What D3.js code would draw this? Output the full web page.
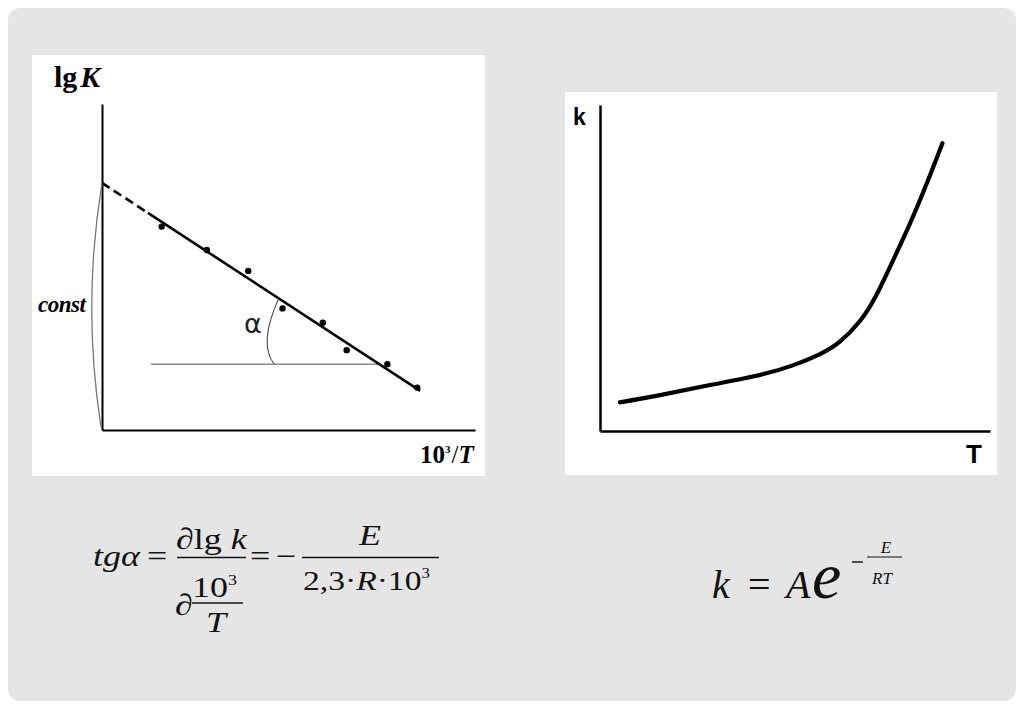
<!DOCTYPE html>
<html>
<head>
<meta charset="utf-8">
<script src="https://cdn.jsdelivr.net/npm/d3@7"></script>
<style>
  html, body { margin: 0; padding: 0; background: #ffffff; }
  svg { display: block; }
</style>
</head>
<body>
<div id="slide"></div>
<script>
/* ── Data ─────────────────────────────────────────────────────────── */

// Left chart: measured lg K against 10^3/T
const invT = [1.60, 2.81, 3.92, 4.84, 5.92, 6.56, 7.65, 8.45];
const lgK  = [6.24, 5.52, 4.88, 3.73, 3.29, 2.45, 2.02, 1.30];

// Fitted straight line: dashed extrapolation to the axis, then solid
const fitDashX  = [0, 1.23];
const fitDashY  = [7.58, 6.66];
const fitSolidX = [1.23, 8.53];
const fitSolidY = [6.66, 1.20];

// Horizontal reference line used to show the angle alpha
const refX = [1.31, 7.43];
const refY = [2.02, 2.02];

// Right chart: k against T
const tempT = [0.51, 1.54, 2.82, 4.10, 4.96, 5.64, 6.15, 6.67, 7.09, 7.52, 7.95, 8.38, 8.78];
const rateK = [0.88, 1.10, 1.41, 1.72, 2.02, 2.36, 2.74, 3.38, 4.18, 5.25, 6.37, 7.60, 8.83];

/* ── SVG scaffold ─────────────────────────────────────────────────── */
const W = 1024, H = 708;
const serif = "'Liberation Serif', 'Times New Roman', serif";
const sans  = "'Liberation Sans', Arial, sans-serif";

const svg = d3.select('#slide').append('svg')
  .attr('width', W).attr('height', H)
  .attr('viewBox', `0 0 ${W} ${H}`);

svg.append('rect')
  .attr('x', 8).attr('y', 8).attr('width', 1008).attr('height', 693)
  .attr('rx', 12).attr('fill', '#e5e5e5');

// white panels
svg.append('rect').attr('x', 32).attr('y', 55).attr('width', 453).attr('height', 421).attr('fill', '#fff');
svg.append('rect').attr('x', 565).attr('y', 92).attr('width', 432).attr('height', 383).attr('fill', '#fff');

/* ── Left chart ───────────────────────────────────────────────────── */
const xL = d3.scaleLinear().domain([0, 10]).range([102, 475]);
const yL = d3.scaleLinear().domain([0, 10]).range([430, 104]);
const gL = svg.append('g');

_axes(gL, xL, yL, 2);

const pair = (xs, ys) => xs.map((v, i) => [v, ys[i]]);
const lineL = d3.line().x(d => xL(d[0])).y(d => yL(d[1]));

// horizontal reference line
gL.append('path').datum(pair(refX, refY))
  .attr('d', lineL).attr('fill', 'none')
  .attr('stroke', '#555').attr('stroke-width', 1);

// fit line
gL.append('path').datum(pair(fitDashX, fitDashY))
  .attr('d', lineL).attr('fill', 'none')
  .attr('stroke', '#000').attr('stroke-width', 2.6)
  .attr('stroke-dasharray', '9,5');

gL.append('path').datum(pair(fitSolidX, fitSolidY))
  .attr('d', lineL).attr('fill', 'none')
  .attr('stroke', '#000').attr('stroke-width', 2.6);

// data points
gL.selectAll('circle.pt').data(pair(invT, lgK)).join('circle')
  .attr('class', 'pt')
  .attr('cx', d => xL(d[0])).attr('cy', d => yL(d[1]))
  .attr('r', 3.2).attr('fill', '#000');

// angle arc between reference line and fit line
{
  const ix = xL(refX[1]), iy = yL(refY[1]);
  const dx = xL(fitSolidX[0]) - xL(fitSolidX[1]);
  const dy = yL(fitSolidY[0]) - yL(fitSolidY[1]);
  const len = Math.hypot(dx, dy);
  const p0 = [ix - 105, iy];
  const p2 = [ix + dx / len * 120, iy + dy / len * 120];
  const p = d3.path();
  p.moveTo(p0[0], p0[1]);
  p.quadraticCurveTo(p0[0] - 16, iy - 20, p2[0], p2[1]);
  gL.append('path').attr('d', p.toString())
    .attr('fill', 'none').attr('stroke', '#333').attr('stroke-width', 1);
}

gL.append('text').attr('x', 244).attr('y', 333)
  .attr('font-family', "'DejaVu Sans', sans-serif").attr('font-size', 27)
  .attr('fill', '#222')
  .text('α');

// "const" bracket from origin to the intercept
{
  const top = [xL(0), yL(fitDashY[0])];
  const bot = [xL(0) - 1, yL(0) - 3];
  const p = d3.path();
  p.moveTo(top[0], top[1]);
  p.quadraticCurveTo(82, (top[1] + bot[1]) / 2, bot[0], bot[1]);
  gL.append('path').attr('d', p.toString())
    .attr('fill', 'none').attr('stroke', '#777').attr('stroke-width', 1.3);
}

gL.append('text').attr('x', 38).attr('y', 312)
  .attr('font-family', serif).attr('font-size', 23)
  .attr('font-weight', 'bold').attr('font-style', 'italic')
  .attr('letter-spacing', -0.5)
  .text('const');

// axis titles
{
  const t = gL.append('text').attr('x', 54).attr('y', 87)
    .attr('font-family', serif).attr('font-size', 30).attr('font-weight', 'bold');
  t.append('tspan').text('lg');
  t.append('tspan').attr('dx', 3).attr('font-style', 'italic').text('K');
}
{
  const t = gL.append('text').attr('x', 420).attr('y', 463)
    .attr('font-family', serif).attr('font-size', 25).attr('font-weight', 'bold');
  t.append('tspan').text('10');
  t.append('tspan').attr('dy', -10).attr('font-size', 11).text('3');
  t.append('tspan').attr('dy', 10).attr('dx', 1).attr('font-weight', 'normal').text('/');
  t.append('tspan').attr('font-style', 'italic').text('T');
}

/* ── Right chart ──────────────────────────────────────────────────── */
const xR = d3.scaleLinear().domain([0, 10]).range([600, 990]);
const yR = d3.scaleLinear().domain([0, 10]).range([431, 105]);
const gR = svg.append('g');

_axes(gR, xR, yR, 2.5);

gR.append('path').datum(pair(tempT, rateK))
  .attr('d', d3.line().x(d => xR(d[0])).y(d => yR(d[1])).curve(d3.curveNatural))
  .attr('fill', 'none').attr('stroke', '#000')
  .attr('stroke-width', 4.2).attr('stroke-linecap', 'round');

gR.append('text').attr('x', 573).attr('y', 125)
  .attr('font-family', sans).attr('font-weight', 'bold').attr('font-size', 23).text('k');
gR.append('text').attr('x', 966).attr('y', 463)
  .attr('font-family', sans).attr('font-weight', 'bold').attr('font-size', 26).text('T');

/* ── Formulas ─────────────────────────────────────────────────────── */
const gF = svg.append('g').attr('font-family', serif).attr('fill', '#111');
const S = 1.2;    // the formula picture is stretched horizontally
const FS = 30;

// tgα = ∂lg k / ∂(10³/T) = − E / (2,3·R·10³)
_stretched(gF, 93, 566, 'tgα', { italic: true });
_stretched(gF, 147, 566, '=');
{
  const t = _stretched(gF, 176, 549, '∂lg');
  t.append('tspan').attr('font-style', 'italic').text(' k');
}
_bar(gF, 177, 246, 557.5);
_stretched(gF, 175, 615, '∂');
{
  const t = _stretched(gF, 192, 597, '10');
  t.append('tspan').attr('dy', -12).attr('font-size', 15).text('3');
}
_bar(gF, 192, 243, 603);
_stretched(gF, 206, 632, 'T', { italic: true });
_stretched(gF, 250, 566, '=');
_stretched(gF, 276, 566, '−');
_stretched(gF, 359, 545, 'E', { italic: true });
_bar(gF, 302, 439, 557.5);
{
  const t = _stretched(gF, 303, 590, '2,3·', { size: 28 });
  t.append('tspan').attr('font-style', 'italic').text('R');
  t.append('tspan').text('·10');
  t.append('tspan').attr('dy', -12).attr('font-size', 14).text('3');
}

// k = A e^(−E/RT)
gF.append('text').attr('x', 712).attr('y', 598).attr('font-size', 40)
  .attr('font-style', 'italic').text('k');
gF.append('text').attr('x', 748).attr('y', 598).attr('font-size', 40).text('=');
gF.append('text').attr('x', 786).attr('y', 598).attr('font-size', 40)
  .attr('font-style', 'italic').text('A');
gF.append('text').attr('x', 812).attr('y', 598).attr('font-size', 66)
  .attr('font-style', 'italic').text('e');
_bar(gF, 852, 863, 562, 1.4);
gF.append('text').attr('x', 886).attr('y', 553).attr('font-size', 17)
  .attr('font-style', 'italic').attr('text-anchor', 'middle').text('E');
_bar(gF, 867, 902, 557, 1.2);
gF.append('text').attr('x', 882).attr('y', 584).attr('font-size', 17)
  .attr('font-style', 'italic').attr('text-anchor', 'middle').text('RT');

/* ── Helpers ──────────────────────────────────────────────────────── */

/**
 * Draw bare left + bottom axes (no ticks) as plain black lines.
 */
function _axes(g, x, y, sw) {
  g.append('g')
    .attr('transform', `translate(0,${y.range()[0]})`)
    .call(d3.axisBottom(x).ticks(0).tickSizeOuter(0))
    .call(sel => sel.select('.domain').attr('stroke', '#000').attr('stroke-width', sw));
  g.append('g')
    .attr('transform', `translate(${x.range()[0]},0)`)
    .call(d3.axisLeft(y).ticks(0).tickSizeOuter(0))
    .call(sel => sel.select('.domain').attr('stroke', '#000').attr('stroke-width', sw));
}

/**
 * Formula text, stretched horizontally like the source image.
 */
function _stretched(g, x, y, str, opts = {}) {
  return g.append('text')
    .attr('transform', `translate(${x},${y}) scale(${S},1)`)
    .attr('font-size', opts.size || FS)
    .attr('font-style', opts.italic ? 'italic' : 'normal')
    .text(str);
}

function _bar(g, x1, x2, y, sw = 1.4) {
  g.append('line')
    .attr('x1', x1).attr('x2', x2).attr('y1', y).attr('y2', y)
    .attr('stroke', '#111').attr('stroke-width', sw);
}
</script>
</body>
</html>
